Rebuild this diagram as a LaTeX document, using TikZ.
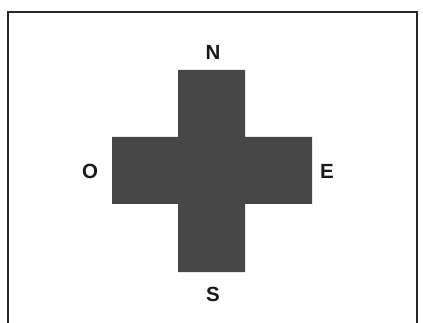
\documentclass[tikz,border=0pt]{standalone}
\usepackage{fontspec}
\setmainfont{Liberation Sans}
\begin{document}
\begin{tikzpicture}[x=1pt,y=-1pt,
  lbl/.style={font=\fontsize{20.5}{20.5}\selectfont\bfseries, inner sep=0pt, text=black!90},
  crossfill/.style={fill=black!72, draw=none}]
\useasboundingbox (0,0) rectangle (423,323);
\draw[line width=2pt, black!85] (8,330) -- (8,12) -- (417,12) -- (417,330);
\fill[crossfill] (178,70) -- (245,70) -- (245,137) -- (312,137) -- (312,204) -- (245,204) -- (245,272) -- (178,272) -- (178,204) -- (112,204) -- (112,137) -- (178,137) -- cycle;
\node[lbl] (n) at (213,52) {N};
\node[lbl] (s) at (213,294) {S};
\node[lbl] (o) at (90,171) {O};
\node[lbl] (e) at (327,171) {E};
\end{tikzpicture}
\end{document}
